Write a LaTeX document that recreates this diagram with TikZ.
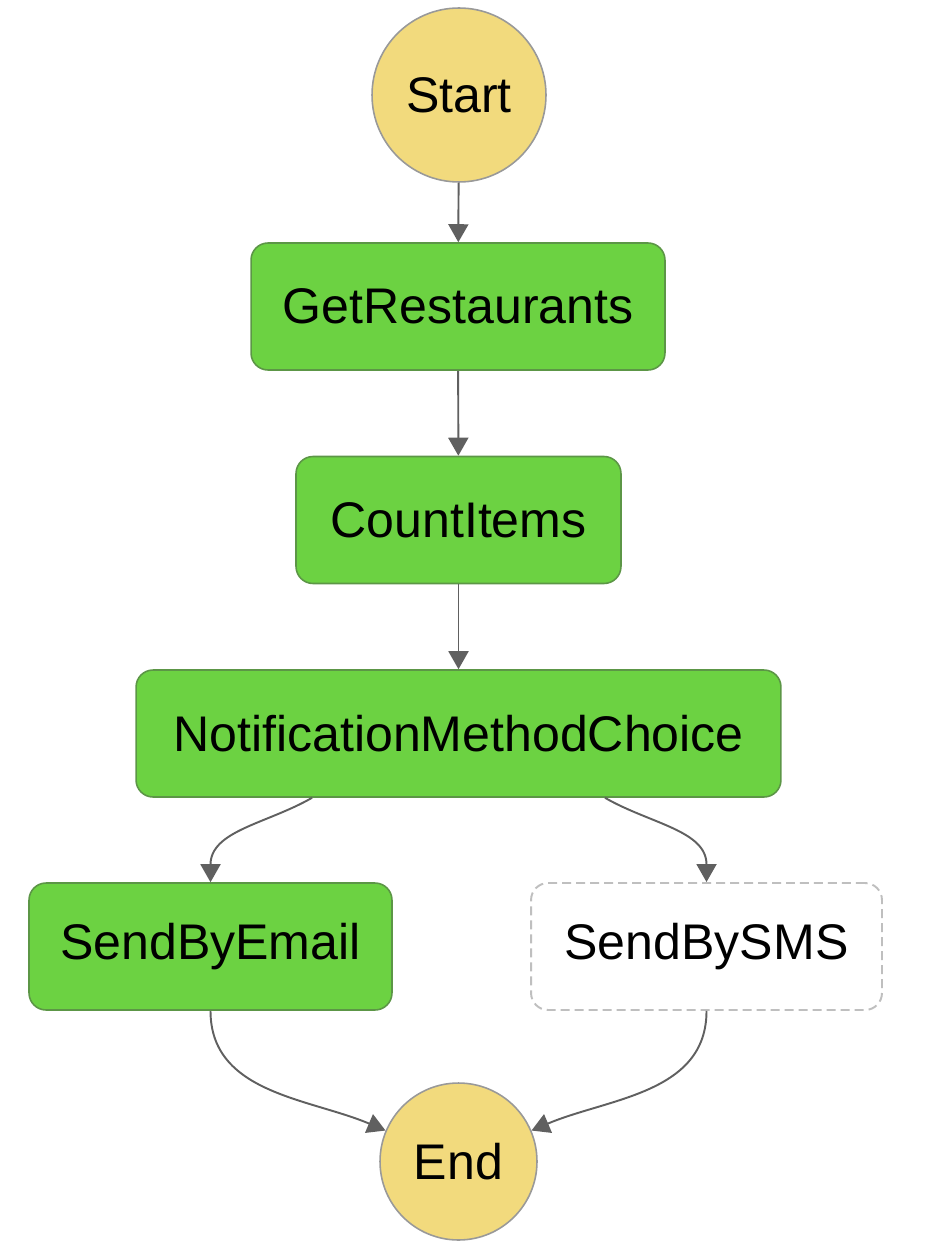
\documentclass[tikz,border=0pt]{standalone}
\usepackage{fontspec}
\setmainfont{Liberation Sans}
\usetikzlibrary{arrows.meta}
\definecolor{stategreen}{RGB}{108,210,66}
\definecolor{stateline}{RGB}{92,150,70}
\definecolor{stateyellow}{RGB}{242,218,125}
\definecolor{edgegray}{RGB}{96,96,96}

\begin{document}
\begin{tikzpicture}[x=0.02cm, y=-0.02cm,
  every node/.style={font=\fontsize{28.5}{33}\selectfont, text=black},
  terminal/.style={circle, draw=gray!80, line width=0.9pt, fill=stateyellow, inner sep=0pt},
  task/.style={rectangle, rounded corners=0.34cm, draw=stateline, line width=0.9pt, fill=stategreen, minimum height=2.54cm, inner sep=0pt},
  skipped/.style={task, fill=white, draw=gray!50, line width=1.1pt, dash pattern=on 0.18cm off 0.1cm},
  flow/.style={draw=edgegray, line width=1.1pt, -{Triangle[width=0.4cm, length=0.36cm]}}]
\useasboundingbox (0,0) rectangle (930,1256);

\node[terminal, minimum size=3.48cm] (start) at (459,95) {Start};
\node[task, minimum width=8.28cm] (get) at (458,306.5) {GetRestaurants};
\node[task, minimum width=6.5cm] (count) at (458.5,520) {CountItems};
\node[task, minimum width=12.9cm] (choice) at (458.5,733.5) {NotificationMethodChoice};
\node[task, minimum width=7.26cm] (email) at (210.5,946.5) {SendByEmail};
\node[skipped, minimum width=7.02cm] (sms) at (706.5,946.5) {SendBySMS};
\node[terminal, minimum size=3.14cm] (end) at (458.5,1161.5) {End};

\draw[flow] (start) -- (get);
\draw[flow] (get) -- (count);
\draw[flow] (count) -- (choice);
\draw[flow] ([xshift=-2.93cm]choice.south) to[out=-150, in=90] (email.north);
\draw[flow] ([xshift=2.93cm]choice.south) to[out=-30, in=90] (sms.north);
\draw[flow] (email.south) to[out=-90, in=157] (end);
\draw[flow] (sms.south) to[out=-90, in=23] (end);
\end{tikzpicture}
\end{document}
